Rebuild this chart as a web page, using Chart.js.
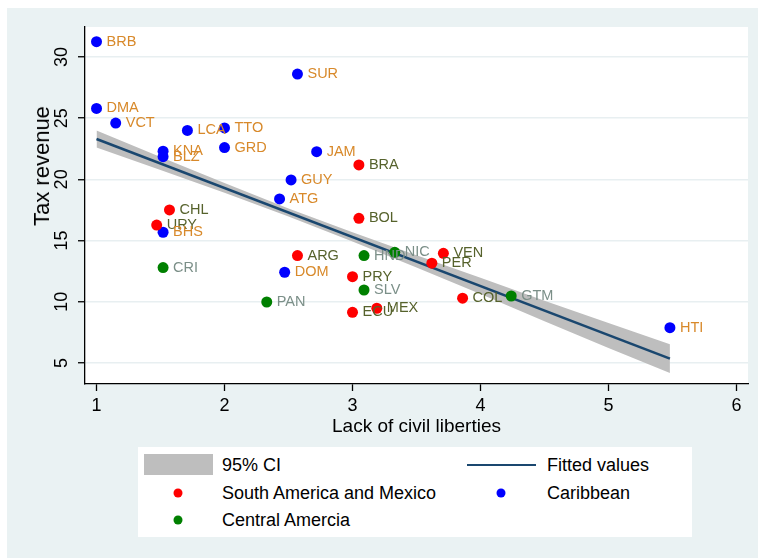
<!DOCTYPE html>
<html>
<head>
<meta charset="utf-8">
<script src="https://cdn.jsdelivr.net/npm/chart.js@4.4.1/dist/chart.umd.min.js"></script>
<style>
  body { margin: 0; background: #fff; }
  #wrap { position: relative; width: 758px; height: 558px; overflow: hidden; font-family: "Liberation Sans", Arial, sans-serif; color: #000; }
  #c { position: absolute; left: 0; top: 0; }
  #ytitle { position: absolute; left: 42px; top: 166px; transform: translate(-50%, -50%) rotate(-90deg); font-size: 22px; white-space: nowrap; }
  #legend { position: absolute; left: 138px; top: 447px; width: 554px; height: 90px; background: #fff; font-size: 18px; }
  .txt { position: absolute; transform: translateY(-50%); white-space: nowrap; line-height: 1; }
  .dot { position: absolute; width: 9px; height: 9px; border-radius: 50%; transform: translate(-50%, -50%); }
</style>
</head>
<body>
<div id="wrap">
  <canvas id="c" width="758" height="558"></canvas>
  <div id="ytitle">Tax revenue</div>
  <div id="legend">
    <div style="position:absolute;left:6px;top:7px;width:69px;height:21px;background:#bebebe"></div>
    <div class="txt" style="left:84px;top:18px">95% CI</div>
    <div style="position:absolute;left:329px;top:17px;width:69px;height:2px;background:#1a476f"></div>
    <div class="txt" style="left:409px;top:18px">Fitted values</div>
    <div class="dot" style="left:40px;top:46px;background:#ff0000"></div>
    <div class="txt" style="left:84px;top:46px">South America and Mexico</div>
    <div class="dot" style="left:363px;top:46px;background:#0000ff"></div>
    <div class="txt" style="left:409px;top:46px">Caribbean</div>
    <div class="dot" style="left:40px;top:73px;background:#008000"></div>
    <div class="txt" style="left:84px;top:73px">Central Amercia</div>
  </div>
</div>
<script>
  var family = '"Liberation Sans", Arial, sans-serif'

  var southNames = ["CHL", "URY", "ARG", "BRA", "BOL", "PRY", "ECU", "MEX", "VEN", "PER", "COL"]
  var southX = [1.57, 1.47, 2.57, 3.05, 3.05, 3.0, 3.0, 3.19, 3.71, 3.62, 3.86]
  var southY = [17.5, 16.27, 13.77, 21.18, 16.82, 12.05, 9.14, 9.47, 13.96, 13.15, 10.29]

  var caribNames = ["BRB", "DMA", "VCT", "LCA", "TTO", "KNA", "BLZ", "GRD", "SUR", "JAM", "GUY", "ATG", "BHS", "DOM", "HTI"]
  var caribX = [1.0, 1.0, 1.15, 1.71, 2.0, 1.52, 1.52, 2.0, 2.57, 2.72, 2.52, 2.43, 1.52, 2.47, 5.48]
  var caribY = [31.25, 25.8, 24.6, 24.0, 24.2, 22.3, 21.85, 22.6, 28.6, 22.26, 19.95, 18.4, 15.68, 12.41, 7.88]

  var centralNames = ["CRI", "PAN", "HND", "NIC", "SLV", "GTM"]
  var centralX = [1.52, 2.33, 3.09, 3.33, 3.09, 4.24]
  var centralY = [12.79, 9.98, 13.77, 14.04, 10.96, 10.47]

  // fitted line and its 95% band
  var fitX = [1, 5.48]
  var fitY = [23.3, 5.35]
  var ciX = [1, 1.5, 2, 2.5, 3, 3.5, 4, 4.5, 5, 5.48]
  var ciUpper = [24.0, 21.83, 19.7, 17.63, 15.67, 13.8, 11.96, 10.09, 8.27, 6.52]
  var ciLower = [22.6, 20.77, 18.9, 16.97, 14.93, 12.8, 10.64, 8.41, 6.23, 4.18]

  var xTicks = [1, 2, 3, 4, 5, 6]
  var yTicks = [5, 10, 15, 20, 25, 30]

  function pts(xs, ys) {
    return xs.map(function(x, i) { return {x: x, y: ys[i]} })
  }

  var bgPlugin = {
    id: 'bg',
    beforeDraw: function(chart) {
      var c = chart.ctx, a = chart.chartArea
      c.save()
      c.fillStyle = '#fff'
      c.fillRect(0, 0, chart.width, chart.height)
      c.fillStyle = '#eaf2f3'
      c.fillRect(7, 8, chart.width - 7, chart.height - 8)
      c.fillStyle = '#fff'
      c.fillRect(a.left, a.top, a.right - a.left, a.bottom - a.top)
      c.restore()
    }
  }

  var labelPlugin = {
    id: 'pointLabels',
    afterDatasetsDraw: function(chart) {
      var c = chart.ctx
      c.save()
      c.font = '14.5px ' + family
      c.textBaseline = 'middle'
      c.textAlign = 'left'
      chart.data.datasets.forEach(function(ds, i) {
        if (!ds.names) return
        c.fillStyle = ds.labelColor
        chart.getDatasetMeta(i).data.forEach(function(pt, j) {
          c.fillText(ds.names[j], pt.x + 10, pt.y)
        })
      })
      c.restore()
    }
  }

  var ctx = document.getElementById("c").getContext('2d')

  var chart = new Chart(ctx, {
    type: 'scatter',
    data: {
      datasets: [
        { label: 'South America and Mexico', data: pts(southX, southY), names: southNames, labelColor: '#56622c',
          backgroundColor: '#ff0000', borderWidth: 0, pointRadius: 5.5, order: 1 },
        { label: 'Caribbean', data: pts(caribX, caribY), names: caribNames, labelColor: '#d8892a',
          backgroundColor: '#0000ff', borderWidth: 0, pointRadius: 5.5, order: 2 },
        { label: 'Central Amercia', data: pts(centralX, centralY), names: centralNames, labelColor: '#7b8f88',
          backgroundColor: '#008000', borderWidth: 0, pointRadius: 5.5, order: 0 },
        { type: 'line', label: 'Fitted values', data: pts(fitX, fitY), borderColor: '#1a476f', borderWidth: 2.5,
          pointRadius: 0, fill: false, tension: 0, order: 5 },
        { type: 'line', label: 'ci upper', data: pts(ciX, ciUpper), borderColor: 'rgba(0,0,0,0)', borderWidth: 0,
          pointRadius: 0, fill: false, tension: 0, order: 6 },
        { type: 'line', label: '95% CI', data: pts(ciX, ciLower), borderColor: 'rgba(0,0,0,0)', borderWidth: 0,
          pointRadius: 0, fill: '-1', backgroundColor: '#bebebe', tension: 0, order: 7 }
      ]
    },
    options: {
      responsive: false,
      animation: false,
      layout: { padding: { left: 0, top: 27, right: 10, bottom: 119 } },
      plugins: { legend: { display: false }, tooltip: { enabled: false } },
      scales: {
        x: {
          type: 'linear', min: 0.91, max: 6.09,
          afterBuildTicks: function(s) { s.ticks = xTicks.map(function(v) { return {value: v} }) },
          afterFit: function(s) { s.height = 55; s.paddingLeft = 0; s.paddingRight = 0 },
          grid: { drawOnChartArea: false, tickLength: 7, tickColor: '#000', tickWidth: 1.3 },
          border: { color: '#000', width: 1.3 },
          ticks: { font: { size: 18, family: family }, color: '#000', padding: 4 },
          title: { display: true, text: 'Lack of civil liberties', font: { size: 19, family: family }, color: '#000',
                   padding: { top: 0, bottom: 1 } }
        },
        y: {
          type: 'linear', min: 3.28, max: 32.45,
          afterBuildTicks: function(s) { s.ticks = yTicks.map(function(v) { return {value: v} }) },
          afterFit: function(s) { s.width = 85; s.paddingTop = 0; s.paddingBottom = 0 },
          grid: { color: '#e8eff1', lineWidth: 1.5, tickLength: 7, tickColor: '#000', tickWidth: 1.3 },
          border: { color: '#000', width: 1.3 },
          ticks: { font: { size: 18, family: family }, color: '#000', padding: 5.5,
                   minRotation: 90, maxRotation: 90, crossAlign: 'center' }
        }
      }
    },
    plugins: [bgPlugin, labelPlugin]
  })
</script>
</body>
</html>
